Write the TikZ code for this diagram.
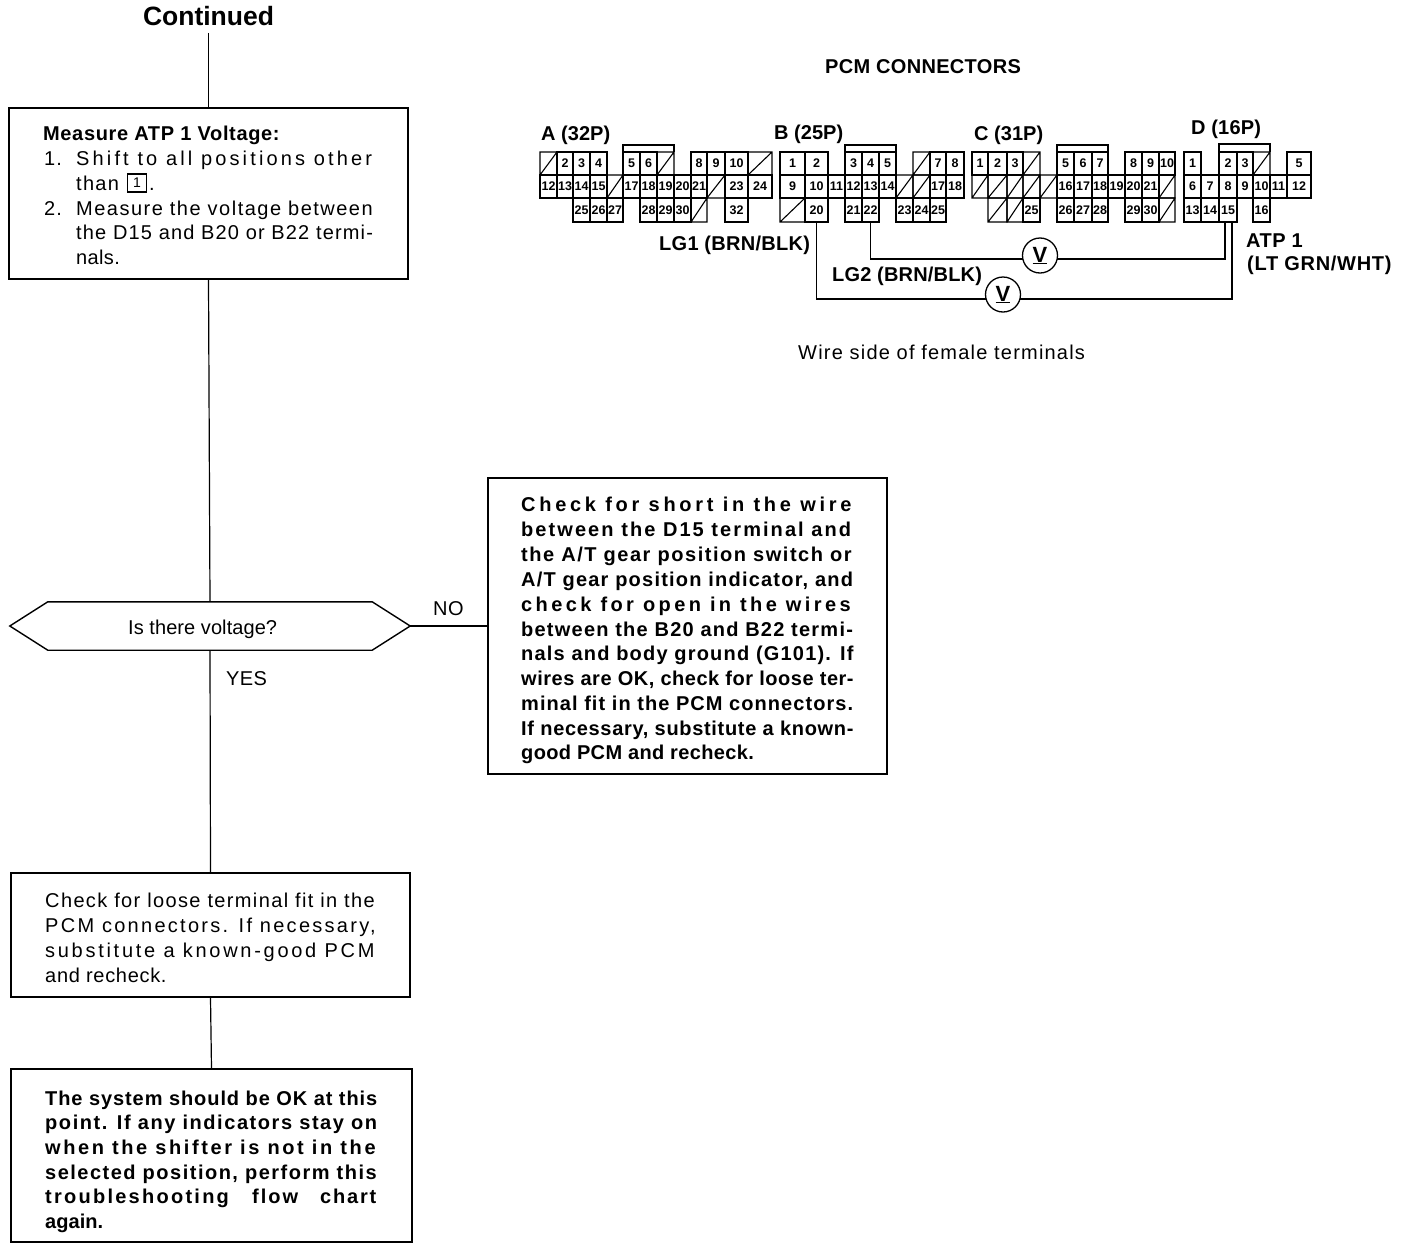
\documentclass[tikz,border=0pt]{standalone}
\usepackage{fontspec}
\setmainfont{Liberation Sans}
\usetikzlibrary{calc}
\ExplSyntaxOn
\NewDocumentCommand\fitto{mm}{
  \hbox_set:Nn \l_tmpa_box {#2}
  \fp_set:Nn \l_tmpa_fp { ( (#1) - \dim_to_fp:n { \box_wd:N \l_tmpa_box } ) / ( \tl_count:n {#2} ) / \dim_to_fp:n { 1em } * 100 }
  \hbox:n { \exp_args:Nx \addfontfeature { LetterSpace = \fp_eval:n { round(\l_tmpa_fp,3) } } #2 }
}
\NewDocumentCommand\tline{O{txt}mmmmm}{
  \node[#1,anchor=base~west] (#2) at (#3,#5+7) {\fitto{#4-#3}{#6}};
}
\ExplSyntaxOff
\tikzset{
  txt/.style={inner sep=0pt,font=\fontsize{20}{24}\selectfont},
  btxt/.style={inner sep=0pt,font=\fontsize{20}{24}\selectfont\bfseries},
  flowbox/.style={draw,line width=1.4pt,inner sep=0pt},
  flowline/.style={line width=1.2pt},
  wire/.style={line width=1.8pt},
  cell/.style={draw,line width=1.1pt,inner sep=0pt,font=\fontsize{12.5}{14}\selectfont\bfseries},
  slashcell/.style={line width=1.1pt},
  meter/.style={draw,circle,line width=1.3pt,minimum size=35pt,inner sep=0pt,font=\fontsize{22}{24}\selectfont\bfseries},
}
\newcommand\boxat[5]{\node[flowbox,minimum width={(#4-#2)*1pt},minimum height={(#5-#3)*1pt}] (#1) at ({(#2+#4)/2},{(#3+#5)/2}) {};}
\def\slashmark{x}
\newcommand\cellrow[4]{%
  \foreach \ca/\cb/\cl in {#4}{%
    \ifx\cl\slashmark
      \draw[slashcell] (\ca,#2) rectangle (\cb,#3) (\ca,#3) -- (\cb,#2);
    \else
      \pgfmathsetmacro\cw{\cb-\ca}\pgfmathsetmacro\ch{#3-#2}
      \node[cell,minimum width=\cw pt,minimum height=\ch pt] (#1\cl) at ({(\ca+\cb)/2},{(#2+#3)/2}) {\cl};
    \fi
  }%
}
\begin{document}
\begin{tikzpicture}[x=1pt,y=-1pt]
\useasboundingbox (0,0) rectangle (1408,1250);
% Flow chart
\node[btxt,font=\fontsize{26.5}{28}\selectfont\bfseries,inner sep=7pt] (cont) at (208.5,16) {Continued};
\boxat{box1}{9}{108}{408}{279}
\boxat{box2}{488}{478}{887}{774}
\boxat{box3}{11}{873}{410}{997}
\boxat{box4}{11}{1069}{412}{1242}
\node[minimum width=400pt,minimum height=48pt,inner sep=0pt] (hex) at (210,626) {};
\draw[flowbox] (hex.west) -- ($(hex.north west)+(38,0)$) -- ($(hex.north east)+(-38,0)$) -- (hex.east) -- ($(hex.south east)+(-38,0)$) -- ($(hex.south west)+(38,0)$) -- cycle;
\draw[flowline] (cont.south) -- (box1.north);
\draw[flowline] (box1.south) -- (hex.north);
\draw[flowline] (hex.east) -- (box2.west |- hex.east);
\draw[flowline] (hex.south) -- (box3.north);
\draw[flowline] (box3.south) -- (box4.north);
% Box 1
\tline[btxt]{a1}{43}{280}{133}{Measure ATP 1 Voltage:}
\tline{a2n}{44}{63}{158}{1.}
\tline{a2}{76}{375}{158}{Shift to all positions other}
\tline{a3}{76}{120}{183}{than}
\node[draw,line width=1.3pt,minimum width=19pt,minimum height=18pt,inner sep=0pt,font=\fontsize{14}{16}\selectfont] (a3b) at (137,183) {1};
\tline{a3c}{149}{155}{183}{.}
\tline{a4n}{44}{63}{208}{2.}
\tline{a4}{76}{374}{208}{Measure the voltage between}
\tline{a5}{76}{374}{232}{the D15 and B20 or B22 termi-}
\tline{a6}{76}{120}{257}{nals.}
% Box 2
\tline[btxt]{b1}{521}{855}{504}{Check for short in the wire}
\tline[btxt]{b2}{521}{853}{529}{between the D15 terminal and}
\tline[btxt]{b3}{521}{853}{554}{the A/T gear position switch or}
\tline[btxt]{b4}{521}{854}{579}{A/T gear position indicator, and}
\tline[btxt]{b5}{521}{854}{604}{check for open in the wires}
\tline[btxt]{b6}{521}{854}{629}{between the B20 and B22 termi-}
\tline[btxt]{b7}{521}{854}{653}{nals and body ground (G101). If}
\tline[btxt]{b8}{521}{854}{678}{wires are OK, check for loose ter-}
\tline[btxt]{b9}{521}{854}{703}{minal fit in the PCM connectors.}
\tline[btxt]{b10}{521}{854}{728}{If necessary, substitute a known-}
\tline[btxt]{b11}{521}{754}{752}{good PCM and recheck.}
% Hexagon and branch labels
\tline{h1}{128}{277}{627}{Is there voltage?}
\tline{no}{433}{464}{608}{NO}
\tline{yes}{226}{267}{678}{YES}
% Box 3
\tline{c1}{45}{376}{900}{Check for loose terminal fit in the}
\tline{c2}{45}{377}{925}{PCM connectors. If necessary,}
\tline{c3}{45}{377}{950}{substitute a known-good PCM}
\tline{c4}{45}{167}{975}{and recheck.}
% Box 4
\tline[btxt]{d1}{45}{378}{1098}{The system should be OK at this}
\tline[btxt]{d2}{45}{378}{1122}{point. If any indicators stay on}
\tline[btxt]{d3}{45}{378}{1147}{when the shifter is not in the}
\tline[btxt]{d4}{45}{378}{1172}{selected position, perform this}
\tline[btxt]{d5a}{45}{231}{1196}{troubleshooting}
\tline[btxt]{d5b}{252}{300}{1196}{flow}
\tline[btxt]{d5c}{320}{378}{1196}{chart}
\tline[btxt]{d6}{45}{103}{1221}{again.}
% Connector titles
\tline[btxt]{pcm}{825}{1021}{66}{PCM CONNECTORS}
\tline[btxt]{ta}{541}{610}{133}{A (32P)}
\tline[btxt]{tb}{774}{843}{132}{B (25P)}
\tline[btxt]{tc}{974}{1043}{133}{C (31P)}
\tline[btxt]{td}{1191}{1261}{127}{D (16P)}
\tline[btxt]{lg1}{659}{810}{243}{LG1 (BRN/BLK)}
\tline[btxt]{lg2}{832}{982}{274}{LG2 (BRN/BLK)}
\tline[btxt]{atp}{1246}{1303}{240}{ATP 1}
\tline[btxt]{ltg}{1247}{1392}{263}{(LT GRN/WHT)}
\tline{wside}{798}{1086}{352}{Wire side of female terminals}
% Connector A
\cellrow{Aa}{152}{175}{540/557/x,557/573/2,573/590/3,590/607/4,623/640/5,640/657/6,657/674/x,691/707/8,707/725/9,725/748/10,748/772/x}
\cellrow{Aa}{175}{198}{540/557/12,557/573/13,573/590/14,590/607/15,607/623/x,623/640/17,640/657/18,657/674/19,674/691/20,691/707/21,707/725/x,725/748/23,748/772/24}
\cellrow{Aa}{198}{222}{573/590/25,590/607/26,607/623/27,640/657/28,657/674/29,674/691/30,691/707/x,725/748/32}
\draw[slashcell] (623,152) |- (674,145) -- (674,152);
% Connector B
\cellrow{Bb}{152}{175}{780/805/1,805/828/2,845/862/3,862/879/4,879/896/5,913/930/x,930/946/7,946/964/8}
\cellrow{Bb}{175}{198}{780/805/9,805/828/10,828/845/11,845/862/12,862/879/13,879/896/14,896/913/x,913/930/x,930/946/17,946/964/18}
\cellrow{Bb}{198}{222}{780/805/x,805/828/20,845/862/21,862/879/22,896/913/23,913/930/24,930/946/25}
\draw[slashcell] (845,152) |- (896,145) -- (896,152);
% Connector C
\cellrow{Cc}{152}{175}{972/988/1,988/1007/2,1007/1023/3,1023/1040/x,1057/1074/5,1074/1092/6,1092/1108/7,1125/1142/8,1142/1159/9,1159/1175/10}
\cellrow{Cc}{175}{198}{972/988/x,988/1007/x,1007/1023/x,1023/1040/x,1040/1057/x,1057/1074/16,1074/1092/17,1092/1108/18,1108/1125/19,1125/1142/20,1142/1159/21,1159/1175/x}
\cellrow{Cc}{198}{222}{988/1007/x,1007/1023/x,1023/1040/25,1057/1074/26,1074/1092/27,1092/1108/28,1125/1142/29,1142/1159/30,1159/1175/x}
\draw[slashcell] (1057,152) |- (1108,145) -- (1108,152);
% Connector D
\cellrow{Dd}{152}{175}{1184/1201/1,1219/1237/2,1237/1253/3,1253/1270/x,1287/1311/5}
\cellrow{Dd}{175}{198}{1184/1201/6,1201/1219/7,1219/1237/8,1237/1253/9,1253/1270/10,1270/1287/11,1287/1311/12}
\cellrow{Dd}{198}{222}{1184/1201/13,1201/1219/14,1219/1237/15,1253/1270/16}
\draw[slashcell] (1219,152) |- (1270,144) -- (1270,152);
% Meters and wires
\node[meter] (v1) at (1040,255.5) {\underline{V}};
\node[meter] (v2) at (1003,294.5) {\underline{V}};
\draw[wire] (Bb22.south) |- ($(v1.center)+(-17.2,3.5)$);
\draw[wire] ($(v1.center)+(17.2,3.5)$) -| ([xshift=-3pt]Dd15.south);
\draw[wire] (Bb20.south) |- ($(v2.center)+(-17.2,4.5)$);
\draw[wire] ($(v2.center)+(17.2,4.5)$) -| ([xshift=4pt]Dd15.south);
\end{tikzpicture}
\end{document}
